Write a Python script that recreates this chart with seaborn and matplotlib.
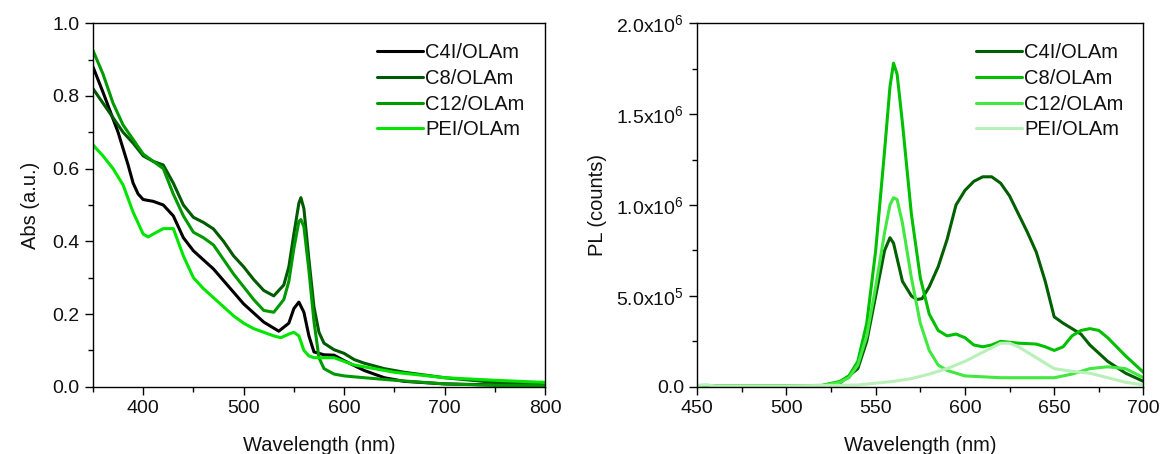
import numpy as np
import matplotlib
matplotlib.use("Agg")
import matplotlib.pyplot as plt
from matplotlib.ticker import MultipleLocator, FuncFormatter
import seaborn as sns

# ── Absorbance (left panel) ──
abs_labels = ["C4I/OLAm", "C8/OLAm", "C12/OLAm", "PEI/OLAm"]
abs_colors = ["#000000", "#005a00", "#009a00", "#00e600"]

wl_c4 = [350, 360, 375, 385, 390, 395, 400, 410, 420, 430, 440, 450, 470, 500, 520, 535,
         545, 550, 555, 560, 565, 570, 580, 590, 600, 620, 640, 660, 700, 750, 800]
abs_c4 = [0.88, 0.81, 0.70, 0.61, 0.56, 0.53, 0.515, 0.51, 0.50, 0.47, 0.41, 0.374,
          0.324, 0.228, 0.178, 0.153, 0.175, 0.215, 0.233, 0.205, 0.14, 0.096, 0.088,
          0.087, 0.072, 0.045, 0.025, 0.015, 0.008, 0.005, 0.003]

wl_c8 = [350, 360, 370, 380, 390, 400, 410, 420, 430, 440, 450, 460, 470, 480, 490,
         500, 510, 520, 530, 540, 545, 550, 555, 557, 560, 565, 570, 575, 580, 590,
         600, 610, 620, 640, 660, 700, 750, 800]
abs_c8 = [0.82, 0.78, 0.74, 0.70, 0.67, 0.635, 0.62, 0.61, 0.56, 0.50, 0.466, 0.452,
          0.434, 0.40, 0.36, 0.33, 0.295, 0.265, 0.25, 0.28, 0.33, 0.42, 0.505, 0.52,
          0.49, 0.35, 0.22, 0.15, 0.12, 0.102, 0.092, 0.075, 0.065, 0.05, 0.04, 0.025,
          0.012, 0.007]

wl_c12 = [350, 360, 370, 380, 390, 400, 410, 420, 430, 440, 450, 460, 470, 480, 490,
          500, 510, 520, 530, 540, 545, 550, 555, 557, 560, 565, 570, 575, 580, 590,
          600, 620, 650, 700, 750, 800]
abs_c12 = [0.925, 0.86, 0.78, 0.72, 0.68, 0.64, 0.62, 0.60, 0.53, 0.47, 0.425, 0.41,
           0.39, 0.35, 0.31, 0.275, 0.24, 0.21, 0.205, 0.24, 0.29, 0.38, 0.455, 0.46,
           0.44, 0.32, 0.18, 0.08, 0.05, 0.035, 0.03, 0.025, 0.018, 0.008, 0.004, 0.003]

wl_pei = [350, 360, 370, 380, 390, 400, 405, 410, 420, 430, 440, 450, 460, 470, 480,
          490, 500, 510, 520, 530, 537, 545, 550, 555, 560, 565, 570, 580, 590, 600,
          610, 620, 650, 700, 750, 800]
abs_pei = [0.665, 0.635, 0.60, 0.555, 0.48, 0.42, 0.412, 0.42, 0.435, 0.435, 0.36, 0.30,
           0.27, 0.245, 0.22, 0.195, 0.175, 0.16, 0.15, 0.14, 0.135, 0.145, 0.15, 0.14,
           0.10, 0.085, 0.08, 0.08, 0.08, 0.07, 0.06, 0.055, 0.04, 0.025, 0.018, 0.012]

# ── Photoluminescence (right panel), units of 1e6 counts ──
pl_labels = ["C4I/OLAm", "C8/OLAm", "C12/OLAm", "PEI/OLAm"]
pl_colors = ["#006000", "#00c000", "#40e840", "#b8f0b8"]

pl_wl_c4 = [450, 500, 520, 530, 540, 545, 550, 555, 558, 560, 565, 570, 573, 576, 580,
            585, 590, 595, 600, 605, 610, 615, 620, 625, 630, 635, 640, 645, 650, 655,
            660, 665, 670, 680, 690, 700]
pl_c4 = [0.0, 0.0, 0.003, 0.02, 0.1, 0.25, 0.5, 0.75, 0.82, 0.79, 0.58, 0.50, 0.48,
         0.485, 0.55, 0.66, 0.81, 1.0, 1.08, 1.13, 1.155, 1.155, 1.12, 1.05, 0.95, 0.85,
         0.74, 0.58, 0.385, 0.35, 0.32, 0.29, 0.23, 0.14, 0.075, 0.03]

pl_wl_c8 = [450, 500, 520, 530, 535, 540, 545, 550, 555, 558, 560, 562, 565, 570, 575,
            580, 585, 590, 595, 600, 605, 610, 615, 620, 625, 630, 640, 645, 650, 655,
            660, 665, 670, 675, 680, 690, 700]
pl_c8 = [0.005, 0.005, 0.008, 0.03, 0.06, 0.14, 0.35, 0.75, 1.3, 1.65, 1.78, 1.72, 1.45,
         0.95, 0.6, 0.4, 0.31, 0.28, 0.29, 0.27, 0.23, 0.22, 0.23, 0.25, 0.245, 0.24,
         0.235, 0.22, 0.20, 0.22, 0.28, 0.31, 0.32, 0.31, 0.27, 0.17, 0.08]

pl_wl_c12 = [450, 500, 520, 530, 535, 540, 545, 550, 555, 558, 560, 562, 565, 570, 575,
             580, 585, 590, 600, 610, 620, 640, 650, 660, 670, 680, 690, 700]
pl_c12 = [0.005, 0.005, 0.007, 0.025, 0.05, 0.12, 0.28, 0.55, 0.85, 1.0, 1.04, 1.03,
          0.9, 0.6, 0.35, 0.2, 0.12, 0.09, 0.06, 0.055, 0.05, 0.05, 0.05, 0.07, 0.1,
          0.11, 0.1, 0.05]

pl_wl_pei = [450, 455, 460, 500, 540, 560, 570, 580, 590, 600, 610, 620, 625, 630, 640,
             650, 660, 670, 680, 690, 700]
pl_pei = [0.008, 0.012, 0.004, 0.004, 0.01, 0.03, 0.045, 0.07, 0.10, 0.14, 0.19, 0.24,
          0.24, 0.22, 0.16, 0.10, 0.085, 0.075, 0.05, 0.025, 0.01]


sns.set_style("ticks")
plt.rcParams["font.family"] = ["Liberation Sans", "DejaVu Sans"]
plt.rcParams["mathtext.fontset"] = "custom"
plt.rcParams["mathtext.rm"] = "Liberation Sans"
plt.rcParams["axes.linewidth"] = 1.0
plt.rcParams["text.color"] = "#111111"
plt.rcParams["axes.labelcolor"] = "#111111"

fig = plt.figure(figsize=(11.62, 4.54), dpi=100)
ax1 = fig.add_axes([0.080, 0.148, 0.389, 0.801])
ax2 = fig.add_axes([0.600, 0.148, 0.384, 0.801])

abs_series = [(wl_c4, abs_c4), (wl_c8, abs_c8), (wl_c12, abs_c12), (wl_pei, abs_pei)]
for (x, y), lab, col in zip(abs_series, abs_labels, abs_colors):
    sns.lineplot(x=x, y=y, color=col, label=lab, linewidth=2.2, ax=ax1, sort=False)

pl_series = [(pl_wl_c4, pl_c4), (pl_wl_c8, pl_c8), (pl_wl_c12, pl_c12), (pl_wl_pei, pl_pei)]
for (x, y), lab, col in zip(pl_series, pl_labels, pl_colors):
    sns.lineplot(x=x, y=np.array(y) * 1e6, color=col, label=lab, linewidth=2.2,
                 ax=ax2, sort=False)


def sci_fmt(v, pos):
    if v == 0:
        return "0.0"
    e = int(np.floor(np.log10(abs(v))))
    m = v / 10 ** e
    return r"$\mathregular{%.1fx10^{%d}}$" % (m, e)


# left axes
ax1.set_xlim(350, 800)
ax1.set_ylim(0, 1.0)
ax1.xaxis.set_major_locator(MultipleLocator(100))
ax1.xaxis.set_minor_locator(MultipleLocator(50))
ax1.yaxis.set_major_locator(MultipleLocator(0.2))
ax1.yaxis.set_minor_locator(MultipleLocator(0.1))
ax1.yaxis.set_major_formatter(FuncFormatter(lambda v, p: f"{v:.1f}"))
ax1.set_xlabel("Wavelength (nm)", fontsize=14.5, labelpad=14)
ax1.set_ylabel("Abs (a.u.)", fontsize=14.5, labelpad=9)

# right axes
ax2.set_xlim(450, 700)
ax2.set_ylim(0, 2.0e6)
ax2.xaxis.set_major_locator(MultipleLocator(50))
ax2.xaxis.set_minor_locator(MultipleLocator(25))
ax2.yaxis.set_major_locator(MultipleLocator(5e5))
ax2.yaxis.set_minor_locator(MultipleLocator(2.5e5))
ax2.yaxis.set_major_formatter(FuncFormatter(sci_fmt))
ax2.set_xlabel("Wavelength (nm)", fontsize=14.5, labelpad=14)
ax2.set_ylabel("PL (counts)", fontsize=14.5, labelpad=7)

for ax in (ax1, ax2):
    for s in ax.spines.values():
        s.set_visible(True)
        s.set_color("black")
    ax.tick_params(which="major", direction="out", length=6, width=1,
                   labelsize=14, top=False, right=False, colors="black",
                   labelcolor="#111111")
    ax.tick_params(which="minor", direction="out", length=3.5, width=1,
                   top=False, right=False, colors="black")
    ax.legend(loc="upper right", frameon=False, fontsize=14.5,
              handlelength=2.3, handletextpad=0.1, labelspacing=0.33,
              borderaxespad=0.6)

plt.savefig("out.png", dpi=100)
